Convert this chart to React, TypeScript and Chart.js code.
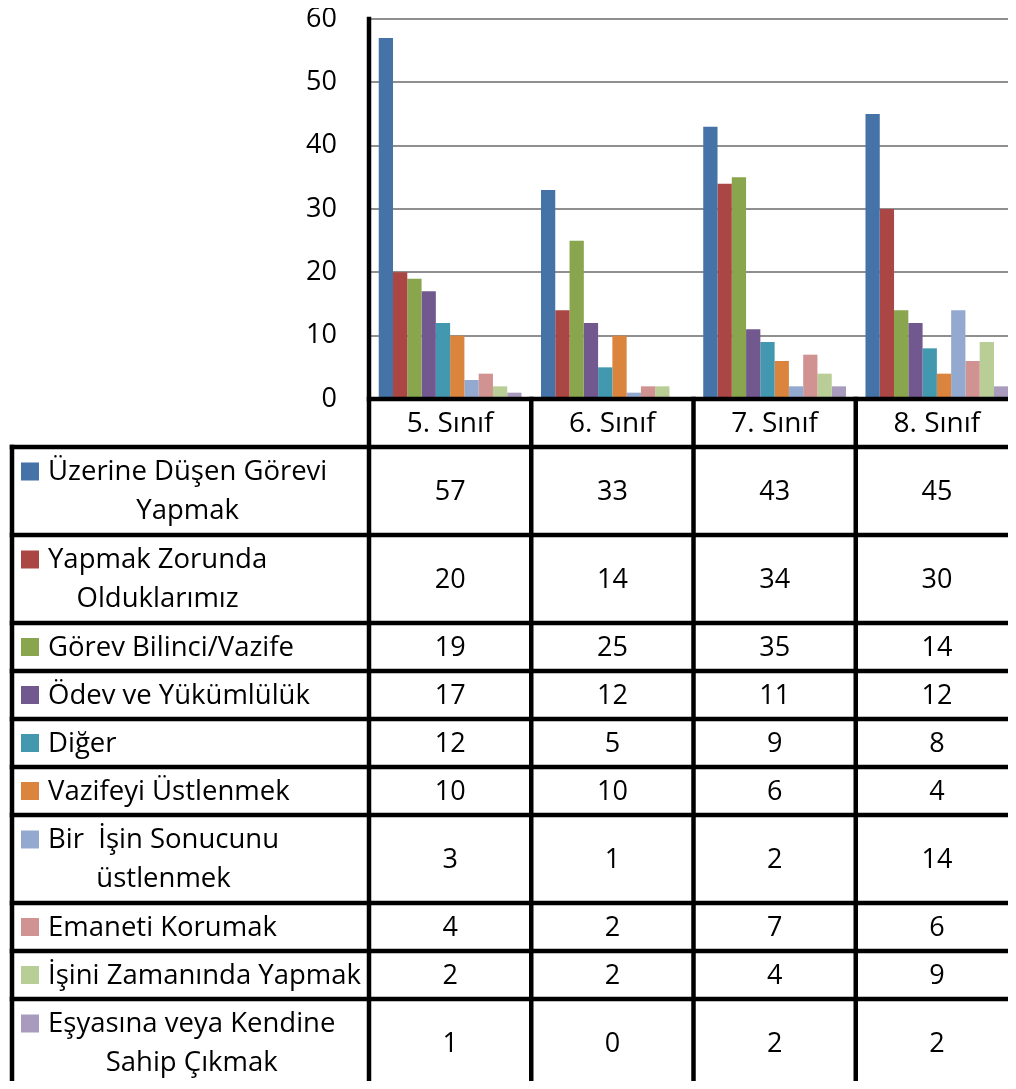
import React, { useEffect, useRef } from 'react';
import { Chart, registerables } from 'chart.js';

Chart.register(...registerables);

const categories = ['5. Sınıf', '6. Sınıf', '7. Sınıf', '8. Sınıf'];

const seriesLabels: string[][] = [
  ['Üzerine Düşen Görevi', 'Yapmak'],
  ['Yapmak Zorunda', 'Olduklarımız'],
  ['Görev Bilinci/Vazife'],
  ['Ödev ve Yükümlülük'],
  ['Diğer'],
  ['Vazifeyi Üstlenmek'],
  ['Bir  İşin Sonucunu', 'üstlenmek'],
  ['Emaneti Korumak'],
  ['İşini Zamanında Yapmak'],
  ['Eşyasına veya Kendine', 'Sahip Çıkmak'],
];

const seriesColors = [
  '#4572A7', '#AA4643', '#89A54E', '#71588F', '#4198AF',
  '#DB843D', '#93A9CF', '#D19392', '#B9CD96', '#A99BBD',
];

const uzerineDusen = [57, 33, 43, 45];
const yapmakZorunda = [20, 14, 34, 30];
const gorevBilinci = [19, 25, 35, 14];
const odevYukumluluk = [17, 12, 11, 12];
const diger = [12, 5, 9, 8];
const vazifeyiUstlenmek = [10, 10, 6, 4];
const birIsinSonucu = [3, 1, 2, 14];
const emanetiKorumak = [4, 2, 7, 6];
const isiniZamaninda = [2, 2, 4, 9];
const esyasinaSahip = [1, 0, 2, 2];

const seriesValues = [
  uzerineDusen, yapmakZorunda, gorevBilinci, odevYukumluluk, diger,
  vazifeyiUstlenmek, birIsinSonucu, emanetiKorumak, isiniZamaninda, esyasinaSahip,
];

const yMin = 0;
const yMax = 60;
const yStep = 10;

const FONT = '"Open Sans", "Noto Sans", sans-serif';
const W = 1020;
const H = 1089;

const tablePlugin = {
  id: 'dataTable',
  afterDraw(chart: any) {
    const ctx: CanvasRenderingContext2D = chart.ctx;
    const area = chart.chartArea;
    const n = categories.length;
    const colW = (area.right - area.left) / n;
    const edges: number[] = [];
    for (let i = 0; i <= n; i++) edges.push(area.left + i * colW);
    const tableLeft = 12;
    const headerTop = area.bottom;
    const headerH = 48;
    const oneLineH = 48;
    const twoLineH = 88;
    const rowTops: number[] = [];
    let y = headerTop + headerH;
    rowTops.push(y);
    seriesLabels.forEach((lines) => {
      y += lines.length > 1 ? twoLineH : oneLineH;
      rowTops.push(y);
    });
    const tableBottom = y;

    ctx.save();
    ctx.fillStyle = '#000';
    ctx.textAlign = 'center';
    ctx.textBaseline = 'middle';
    ctx.font = `28px ${FONT}`;
    categories.forEach((c, i) => {
      ctx.fillText(c, (edges[i] + edges[i + 1]) / 2, headerTop + headerH / 2 + 1);
    });

    seriesLabels.forEach((lines, r) => {
      const top = rowTops[r];
      const bot = rowTops[r + 1];
      const cy = (top + bot) / 2;
      ctx.fillStyle = '#000';
      ctx.font = `27px ${FONT}`;
      ctx.textAlign = 'center';
      seriesValues[r].forEach((v, i) => {
        ctx.fillText(String(v), (edges[i] + edges[i + 1]) / 2, cy + 1);
      });
      ctx.font = `27.5px ${FONT}`;
      const textLeft = 48;
      const lineGap = 39;
      const widths = lines.map((l) => ctx.measureText(l).width);
      const maxW = Math.max(...widths);
      const firstY = cy - ((lines.length - 1) * lineGap) / 2;
      lines.forEach((l, k) => {
        const ly = firstY + k * lineGap;
        if (lines.length === 1) {
          ctx.textAlign = 'left';
          ctx.fillText(l, textLeft, ly + 1);
        } else {
          ctx.textAlign = 'center';
          ctx.fillText(l, textLeft + maxW / 2, ly + 1);
        }
      });
      ctx.fillStyle = seriesColors[r];
      ctx.fillRect(21, firstY - 9, 18, 18);
    });

    ctx.strokeStyle = '#000';
    ctx.lineWidth = 4.5;
    ctx.lineCap = 'square';
    const line = (x1: number, y1: number, x2: number, y2: number) => {
      ctx.beginPath();
      ctx.moveTo(x1, y1);
      ctx.lineTo(x2, y2);
      ctx.stroke();
    };
    line(area.left, headerTop, W, headerTop);
    rowTops.forEach((ry) => line(tableLeft, ry, W, ry));
    line(tableLeft, rowTops[0], tableLeft, tableBottom);
    line(area.left, area.top, area.left, tableBottom);
    for (let i = 1; i < edges.length; i++) line(edges[i], headerTop, edges[i], tableBottom);
    ctx.restore();
  },
};

export default function App() {
  const ref = useRef<HTMLCanvasElement | null>(null);
  useEffect(() => {
    if (!ref.current) return;
    const chart = new Chart(ref.current, {
      type: 'bar',
      data: {
        labels: categories,
        datasets: seriesLabels.map((l, i) => ({
          label: l.join(' '),
          data: seriesValues[i],
          backgroundColor: seriesColors[i],
          borderWidth: 0,
          barPercentage: 1,
          categoryPercentage: 0.88,
        })),
      },
      options: {
        animation: false,
        responsive: false,
        devicePixelRatio: 1,
        layout: { padding: { top: 19, left: 0, right: 2, bottom: H - 399 } },
        plugins: { legend: { display: false }, tooltip: { enabled: false } },
        scales: {
          x: { display: false },
          y: {
            min: yMin,
            max: yMax,
            afterFit: (s: any) => { s.width = 369; s.paddingTop = 0; s.paddingBottom = 0; },
            ticks: {
              stepSize: yStep,
              color: '#000',
              padding: 32,
              font: { family: FONT, size: 27 },
            },
            grid: {
              color: (c: any) => (c.tick && c.tick.value === 0 ? 'rgba(0,0,0,0)' : '#8f8f8f'),
              lineWidth: 2,
              drawTicks: false,
            },
            border: { display: true, color: '#000', width: 4 },
          },
        },
      },
      plugins: [tablePlugin],
    });
    return () => chart.destroy();
  }, []);
  return (
    <div style={{ margin: '-8px', width: 1016, height: H, overflow: 'hidden', background: '#fff' }}>
      <canvas ref={ref} width={W} height={H} style={{ display: 'block', width: W, height: H }} />
    </div>
  );
}
